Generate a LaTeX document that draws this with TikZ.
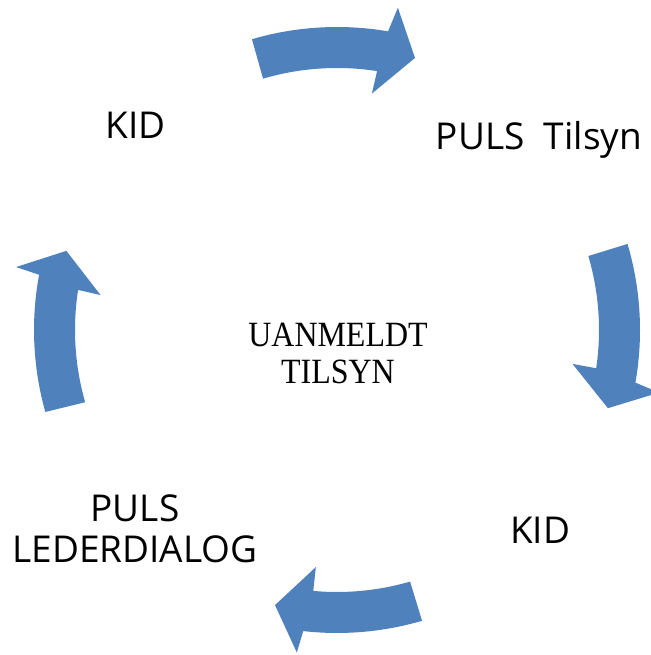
\documentclass[tikz,border=0pt]{standalone}
\usepackage{fontspec}
\setmainfont{Open Sans}
\newfontfamily\serifface[FakeStretch=0.9]{Liberation Serif}
\definecolor{arrowblue}{HTML}{4F81BD}
\begin{document}
\begin{tikzpicture}[x=1pt,y=1pt,
  arrowshape/.style={fill=arrowblue, draw=none},
  steplabel/.style={font=\fontsize{37}{41}\selectfont, inner sep=0pt, align=center},
  centerlabel/.style={font=\serifface\fontsize{35.5}{37}\selectfont, inner sep=0pt, align=center}]
\useasboundingbox (0,0) rectangle (650,655);
\coordinate (c) at (337,325);
\begin{scope}[shift={(c)}]
% top arrow
\fill[arrowshape] (106.3:303) arc[start angle=106.3, end angle=80.3, radius=303]
  -- (79.3:328) -- (74:283) -- (81.6:239) -- (81.2:262)
  arc[start angle=81.2, end angle=106.4, radius=262] -- cycle;
% right arrow
\fill[arrowshape] (16.5:303) arc[start angle=16.5, end angle=-10, radius=303]
  -- (-11:328) -- (-16.1:282) -- (-8.2:238) -- (-8.4:262)
  arc[start angle=-8.4, end angle=16.4, radius=262] -- cycle;
% bottom arrow
\fill[arrowshape] (-73.7:303) arc[start angle=-73.7, end angle=-96.4, radius=303]
  -- (-97.1:325) -- (-102.7:282) -- (-95.1:238) -- (-95.2:262)
  arc[start angle=-95.2, end angle=-73.8, radius=262] -- cycle;
% left arrow
\fill[arrowshape] (195.7:303) arc[start angle=195.7, end angle=169.5, radius=303]
  -- (168.9:327) -- (163.7:282) -- (171.6:239) -- (171.2:262)
  arc[start angle=171.2, end angle=196, radius=262] -- cycle;
\end{scope}
\node[steplabel, anchor=base] (kidtop) at (135.5,516) {KID};
\node[steplabel, anchor=base] (pulstilsyn) at (539,505) {PULS\ \ Tilsyn};
\node[steplabel, anchor=base] (kidbottom) at (540,111) {KID};
\node[steplabel, anchor=base] (pulsleder) at (135,92) {PULS\\LEDERDIALOG};
\node[centerlabel, anchor=base] (center) at (338,271) {UANMELDT\\TILSYN};
\end{tikzpicture}
\end{document}
